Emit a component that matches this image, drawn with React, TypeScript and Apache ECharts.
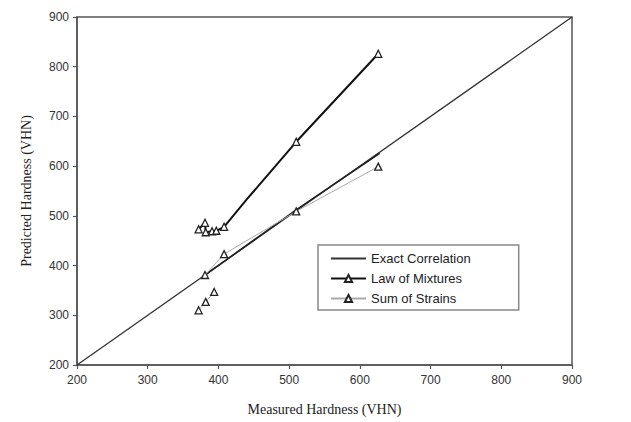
import React, { useEffect, useRef } from "react";
import * as echarts from "echarts";

const axisTicks = [200, 300, 400, 500, 600, 700, 800, 900];
const exactCorrelation: [number, number][] = [
  [200, 200],
  [900, 900],
];
const lawOfMixtures: [number, number][] = [
  [372, 473],
  [381, 486],
  [382, 467],
  [391, 469],
  [397, 470],
  [408, 478],
  [440, 533],
  [510, 649],
  [626, 826],
];
const lawHiddenMarks = [6];
const lawLower: [number, number][] = [
  [381, 381],
  [510, 512],
  [628, 626],
];
const sumOfStrains: ([number, number] | "-")[] = [
  [372, 310],
  [382, 327],
  [394, 347],
  "-",
  [381, 381],
  [408, 423],
  [510, 509],
  [626, 599],
];

export default function App() {
  const ref = useRef<HTMLDivElement>(null);
  useEffect(() => {
    if (!ref.current) return;
    const chart = echarts.init(ref.current, undefined, { renderer: "svg" });
    const sans = "Liberation Sans, Arial, sans-serif";
    const serif = "Liberation Serif, Times New Roman, serif";
    const axisCommon = {
      type: "value" as const,
      min: 200,
      max: 900,
      interval: 100,
      axisLine: { show: true, lineStyle: { color: "#555", width: 1.5 } },
      axisTick: { show: true, length: 4, lineStyle: { color: "#555", width: 1.2 } },
      splitLine: { show: false },
      nameLocation: "middle" as const,
      nameTextStyle: { fontFamily: serif, fontSize: 14, color: "#222" },
    };
    const marker = {
      color: "#fff",
      borderColor: "#222",
      borderWidth: 1.3,
    };
    chart.setOption({
      animation: false,
      backgroundColor: "#fff",
      grid: {
        left: 77,
        right: 59,
        top: 17,
        bottom: 57,
        outerBoundsMode: "none",
        containLabel: false,
        show: true,
        borderColor: "#555",
        borderWidth: 1.5,
      },
      legend: {
        orient: "vertical",
        left: 318,
        top: 245,
        backgroundColor: "#fff",
        borderColor: "#888",
        borderWidth: 1.5,
        borderRadius: 0,
        padding: [7, 48, 5, 12],
        itemWidth: 35,
        itemHeight: 9,
        itemGap: 7,
        textStyle: { fontFamily: sans, fontSize: 13, color: "#222" },
        data: [
          { name: "Exact Correlation", itemStyle: { opacity: 0 } },
          "Law of Mixtures",
          "Sum of Strains",
        ],
      },
      xAxis: {
        ...axisCommon,
        name: "Measured Hardness (VHN)",
        nameGap: 37,
        axisLabel: {
          fontFamily: sans,
          fontSize: 12,
          color: "#333",
          margin: 9,
          formatter: (v: number) => (axisTicks.includes(v) ? String(v) : ""),
        },
      },
      yAxis: {
        ...axisCommon,
        name: "Predicted Hardness (VHN)",
        nameGap: 44,
        axisLabel: {
          fontFamily: sans,
          fontSize: 12,
          color: "#333",
          margin: 8,
          formatter: (v: number) => (axisTicks.includes(v) ? String(v) : ""),
        },
      },
      series: [
        {
          name: "Exact Correlation",
          type: "line",
          data: exactCorrelation,
          symbol: "none",
          lineStyle: { color: "#333", width: 1.3 },
          itemStyle: { color: "#333" },
        },
        {
          name: "Law of Mixtures",
          type: "line",
          data: lawOfMixtures.map((p, i) =>
            lawHiddenMarks.includes(i) ? { value: p, symbol: "none" } : p
          ),
          symbol: "triangle",
          symbolSize: 7,
          lineStyle: { color: "#111", width: 2 },
          itemStyle: marker,
          z: 5,
        },
        {
          name: "Sum of Strains",
          type: "line",
          data: sumOfStrains,
          connectNulls: false,
          symbol: "triangle",
          symbolSize: 7,
          lineStyle: { color: "#aaa", width: 1 },
          itemStyle: marker,
          z: 4,
        },
        {
          name: "Law of Mixtures",
          type: "line",
          data: lawLower,
          symbol: "none",
          lineStyle: { color: "#222", width: 1.6 },
          itemStyle: marker,
          z: 3,
        },
      ],
    });
    return () => chart.dispose();
  }, []);
  return (
    <div
      ref={ref}
      style={{ position: "absolute", left: 0, top: 0, width: 631, height: 422 }}
    />
  );
}
